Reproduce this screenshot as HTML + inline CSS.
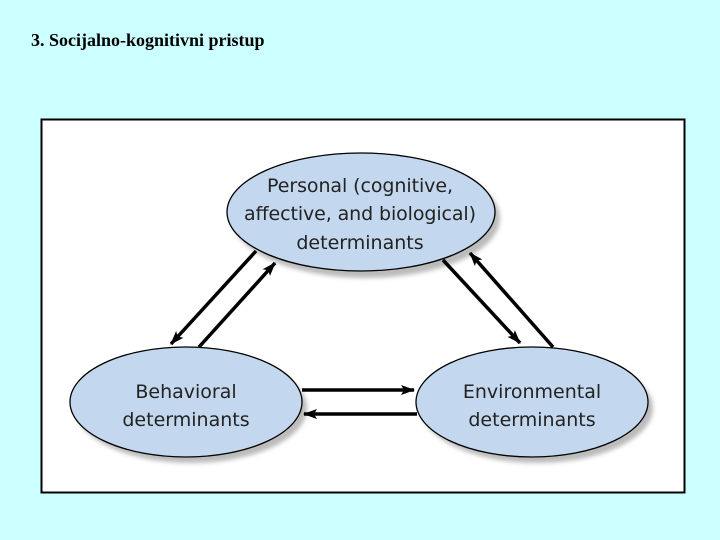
<!DOCTYPE html>
<html><head><style>
body{margin:0;width:720px;height:540px;background:#ccffff;overflow:hidden;position:relative}
.t{position:absolute;left:31px;top:30px;font:bold 18px "Liberation Serif",serif;color:#000}
</style></head><body>
<div class="t">3. Socijalno-kognitivni pristup</div>
<svg width="720" height="540" style="position:absolute;left:0;top:0">
<defs>
<marker id="a" markerWidth="14" markerHeight="10" refX="13" refY="5" orient="auto" markerUnits="userSpaceOnUse"><path d="M0,0 L14,5 L0,10 L3,5 Z" fill="#000"/></marker>
<filter id="s"><feGaussianBlur stdDeviation="2"/></filter>
</defs>
<rect x="41.5" y="119.5" width="643" height="373" fill="#fff" stroke="#000" stroke-width="2"/>
<g fill="#bbb" filter="url(#s)">
<ellipse cx="366" cy="218" rx="134" ry="60"/>
<ellipse cx="191" cy="408" rx="116" ry="55"/>
<ellipse cx="537" cy="408" rx="116" ry="55"/>
</g>
<g fill="#c3d8ee" stroke="#000" stroke-width="1.3">
<ellipse cx="361" cy="212" rx="134" ry="59"/>
<ellipse cx="186" cy="402" rx="116" ry="55"/>
<ellipse cx="532" cy="402" rx="116" ry="55"/>
</g>
<g stroke="#000" stroke-width="3.5" marker-end="url(#a)">
<line x1="256" y1="251" x2="171" y2="344"/>
<line x1="199" y1="347" x2="275" y2="263"/>
<line x1="443" y1="260" x2="520" y2="343"/>
<line x1="553" y1="347" x2="470" y2="253"/>
<line x1="302" y1="390" x2="414" y2="390"/>
<line x1="417" y1="414" x2="304" y2="414"/>
</g>
<g font-family="'DejaVu Sans','Liberation Sans',sans-serif" font-size="19" fill="#222" text-anchor="middle">
<text x="360" y="192" textLength="186">Personal (cognitive,</text>
<text x="360" y="220" textLength="232">affective, and biological)</text>
<text x="360" y="249">determinants</text>
<text x="186" y="398">Behavioral</text>
<text x="186" y="426">determinants</text>
<text x="532" y="398">Environmental</text>
<text x="532" y="426">determinants</text>
</g>
</svg>
</body></html>
